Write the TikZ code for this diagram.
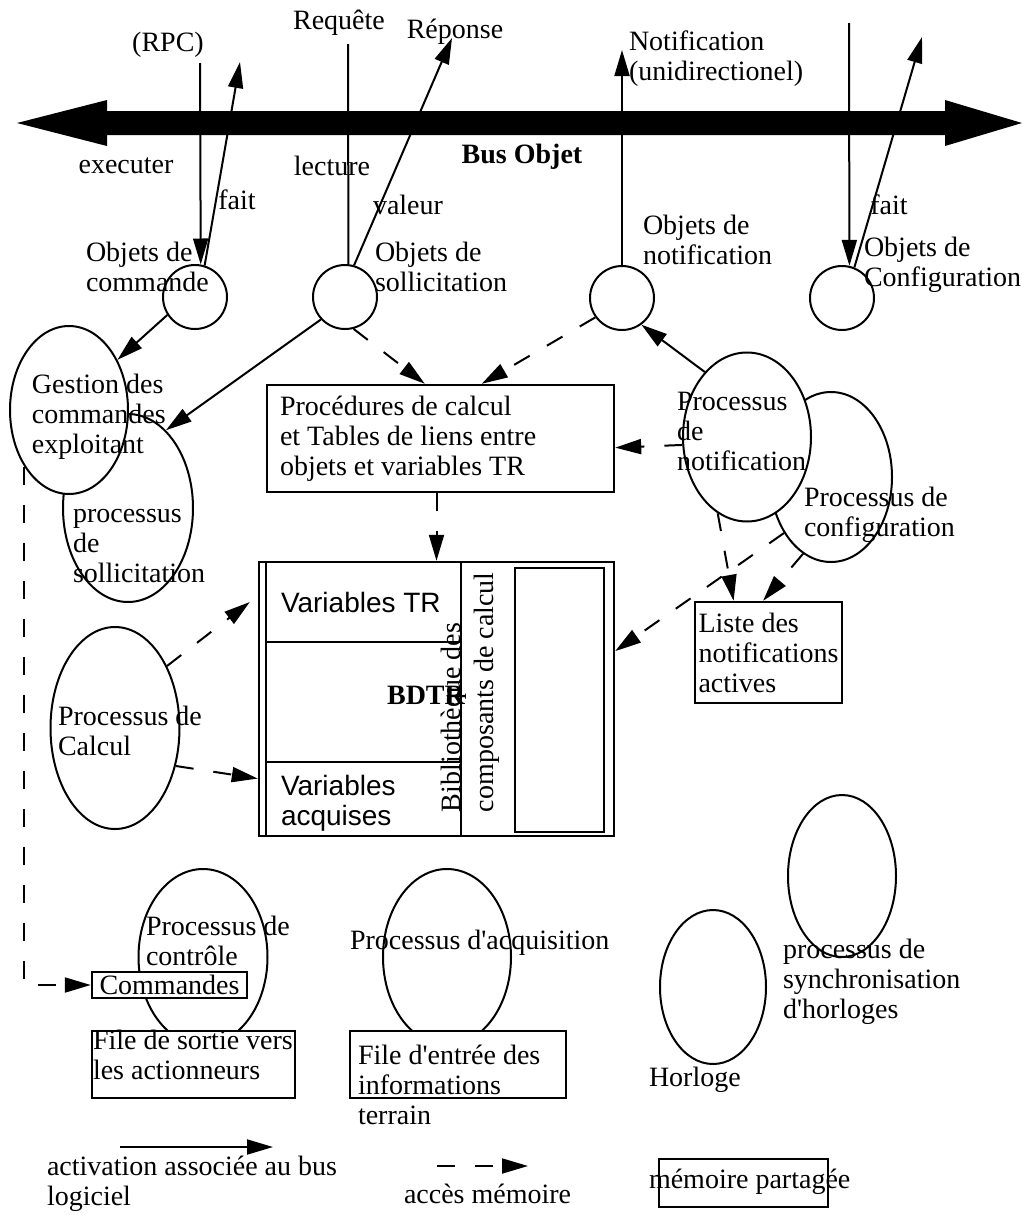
\documentclass[tikz,border=0pt]{standalone}
\usepackage{fontspec}
\setmainfont{Liberation Serif}
\setsansfont{Liberation Sans}
\usetikzlibrary{shapes.geometric,arrows.meta}

\newcommand\diagfont{\fontsize{14}{15}\selectfont}

\tikzset{
  proc/.style={ellipse, draw, fill=white, inner sep=0pt},
  objc/.style={circle, draw, fill=white, inner sep=0pt, minimum size=32pt},
  mem/.style={rectangle, draw, fill=white, line width=1.2pt, inner sep=0pt},
  lbl/.style={inner sep=0pt, align=left, anchor=west},
  acces/.style={->, dash pattern=on 9pt off 10pt},
}

\begin{document}
\begin{tikzpicture}[x=0.5pt, y=-0.5pt, line width=1pt, font=\diagfont,
  >={Triangle[length=13pt, width=7.5pt]}]
\useasboundingbox (0,0) rectangle (1025,1216);

% bus objet
\fill (17,123) -- (107,100) -- (107,111) -- (945,111) -- (945,100) -- (1022,123)
  -- (945,146) -- (945,135) -- (107,135) -- (107,146) -- cycle;
\node (bus) at (522,157) [font=\diagfont\bfseries] {Bus Objet};

% objets
\node (cmd) at (195,297) [objc] {};
\node (soll) at (345,297) [objc] {};
\node (notif) at (622,298) [objc] {};
\node (conf) at (842,298) [objc] {};

% processus
\node (psoll) at (128,508) [proc, minimum width=65pt, minimum height=94pt] {};
\node (gest) at (69,410) [proc, minimum width=59pt, minimum height=84pt] {};
\node (pconf) at (831,477) [proc, minimum width=61pt, minimum height=85pt] {};
\node (pnotif) at (747,437) [proc, minimum width=64pt, minimum height=84.5pt] {};
\node (pcalc) at (115,728) [proc, minimum width=64.5pt, minimum height=101pt] {};
\node (pctrl) at (203,957) [proc, minimum width=64.5pt, minimum height=88pt] {};
\node (pacq) at (447,957) [proc, minimum width=64pt, minimum height=88pt] {};
\node (horl) at (713,987) [proc, minimum width=53pt, minimum height=77pt] {};
\node (psync) at (842,876) [proc, minimum width=54pt, minimum height=81pt] {};

% memoires
\node (proc) at (440.5,438.5) [mem, text width=160.5pt, inner xsep=6.5pt,
  minimum height=53.5pt, align=flush left]
  {Procédures de calcul\\et Tables de liens entre\\objets et variables TR};
\node (liste) at (768.5,652.5) [mem, minimum width=73.5pt, minimum height=50.5pt,
  align=left] {Liste des\\notifications\\actives};
\node (bdtr) at (436.5,699) [mem, minimum width=177.5pt, minimum height=137pt] {};
\node (col) at (363.5,699) [mem, fill=none, minimum width=97.5pt, minimum height=137pt] {};
\node (varTR) at (363.5,602) [mem, fill=none, minimum width=97.5pt, minimum height=40pt] {};
\node (varAcq) at (363.5,799) [mem, fill=none, minimum width=97.5pt, minimum height=37pt] {};
\node (calc) at (559.5,700) [mem, fill=none, minimum width=44.5pt, minimum height=132pt] {};
\node (cmdq) at (169.5,985) [mem, minimum width=77.5pt, minimum height=13pt] {Commandes};
\node (sortie) at (193.5,1064.5) [mem, minimum width=101.5pt, minimum height=33.5pt] {};
\node (entree) at (458,1064.5) [mem, minimum width=108pt, minimum height=33.5pt] {};
\node (legBox) at (743.5,1183) [mem, minimum width=84.5pt, minimum height=24pt] {};

% textes
\node (rpcTxt) at (168,45) {(RPC)};
\node (reqTxt) at (339,23) {Requête};
\node (repTxt) at (455,32) {Réponse};
\node (execTxt) at (126,166) {executer};
\node (fait1Txt) at (237,200) {fait};
\node (lectTxt) at (332,166) {lecture};
\node (valTxt) at (408,205) {valeur};
\node (notifTxt) at (628,59) [lbl] {Notification\\(unidirectionel)};
\node (fait2Txt) at (889,205) {fait};
\node (cmdTxt) at (85,267) [lbl] {Objets de\\commande};
\node (sollTxt) at (374,267) [lbl] {Objets de\\sollicitation};
\node (notifObjTxt) at (642,240) [lbl] {Objets de\\notification};
\node (confTxt) at (863,265) [lbl] {Objets de\\Configuration};
\node (gestTxt) at (31,417) [lbl] {Gestion des\\commandes\\exploitant};
\node (psollTxt) at (72,546) [lbl] {processus\\de\\sollicitation};
\node (pnotifTxt) at (676,431) [lbl] {Processus\\de\\notification};
\node (pconfTxt) at (803,515) [lbl] {Processus de\\configuration};
\node (varTRTxt) at (280,602) [lbl, font=\sffamily\diagfont] {Variables TR};
\node (varAcqTxt) at (280,803) [lbl, font=\sffamily\diagfont] {Variables\\acquises};
\node (bdtrTxt) at (426,695) [font=\diagfont\bfseries] {BDTR};
\node (bibTxt) at (470,813) [lbl, rotate=90, font=\fontsize{14}{16.5}\selectfont]
  {Bibliothèque des\\composants de calcul};
\node (pcalcTxt) at (57,731) [lbl] {Processus de\\Calcul};
\node (pctrlTxt) at (145,941) [lbl] {Processus de\\contrôle};
\node (pacqTxt) at (349,943) [lbl] {Processus d\textquotesingle acquisition};
\node (sortieTxt) at (92,1055) [lbl] {File de sortie vers\\les actionneurs};
\node (entreeTxt) at (357,1085) [lbl] {File d\textquotesingle entrée des\\informations\\terrain};
\node (horlTxt) at (648,1080) [lbl] {Horloge};
\node (psyncTxt) at (782,982) [lbl] {processus de\\synchronisation\\d\textquotesingle horloges};
\node (actTxt) at (46,1184) [lbl] {activation associée au bus\\logiciel};
\node (accTxt) at (403,1194) [lbl] {accès mémoire};
\node (legTxt) at (648,1182) [lbl] {mémoire partagée};

% liens bus
\coordinate (rpcTop) at (200,63);
\coordinate (fait1Top) at (240,62);
\coordinate (reqTop) at (348,44);
\coordinate (repTop) at (452,38);
\coordinate (notifTop) at (622,50);
\coordinate (confTop) at (849,23);
\coordinate (fait2Top) at (922,37);
\draw [->] (rpcTop) -- (cmd.80);
\draw [->] (cmd.73) -- (fait1Top);
\draw (reqTop) -- (soll.84);
\draw [->] (soll.74) -- (repTop);
\draw [->] (notif.north) -- (notifTop);
\draw [->] (confTop) -- (conf.77);
\draw [->] (conf.68) -- (fait2Top);

% activations
\draw [->] (cmd.213) -- (gest.46);
\draw [->] (soll.223) -- (psoll.64);
\draw [->] (pnotif.123) -- (notif.306);

% acces memoire
\draw [acces] (soll.285) -- (proc.106);
\draw [acces] (notif.216) -- (proc.53);
\draw [acces] (pnotif.187) -- (proc.357);
\draw [acces] (proc.south -| bdtr.north) -- (bdtr.north);
\draw [acces] (pnotif.249) -- (liste.124);
\draw [acces] (pconf.250) -- (liste.96);
\draw [acces] (pconf.230) -- (bdtr.15);
\draw [acces] (pcalc.50) -- ([xshift=-7.5pt]varTR.west);
\draw [acces] (pcalc.328) -- (bdtr.204);
\draw [acces] (gest.232) |- (cmdq.west);

% legende
\coordinate (actA) at (120,1147);
\coordinate (actB) at (273,1147);
\coordinate (accA) at (437,1166);
\coordinate (accB) at (528,1166);
\draw [->] (actA) -- (actB);
\draw [acces] (accA) -- (accB);
\end{tikzpicture}
\end{document}
